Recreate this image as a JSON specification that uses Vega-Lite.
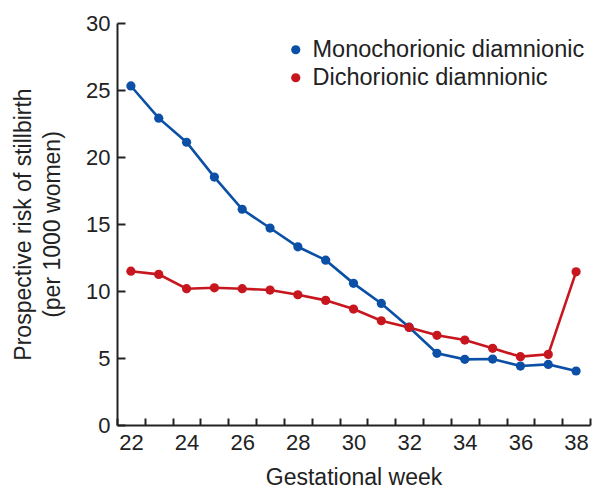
{
  "$schema": "https://vega.github.io/schema/vega-lite/v6.json",
  "autosize": {"type": "none"},
  "width": 473,
  "height": 402,
  "padding": {"left": 117, "top": 23, "right": 2, "bottom": 63},
  "background": "white",
  "config": {
    "view": {"stroke": null},
    "font": "Liberation Sans",
    "axis": {"domainColor": "#222", "tickColor": "#222", "labelColor": "#222", "titleColor": "#222", "domainWidth": 2, "tickWidth": 2, "grid": false, "labelFont": "Liberation Sans", "titleFont": "Liberation Sans", "titleFontWeight": "normal"}
  },
  "data": {"values": [
    {"week": 22, "risk": 25.3, "series": "Monochorionic diamnionic"},
    {"week": 23, "risk": 22.9, "series": "Monochorionic diamnionic"},
    {"week": 24, "risk": 21.1, "series": "Monochorionic diamnionic"},
    {"week": 25, "risk": 18.5, "series": "Monochorionic diamnionic"},
    {"week": 26, "risk": 16.1, "series": "Monochorionic diamnionic"},
    {"week": 27, "risk": 14.7, "series": "Monochorionic diamnionic"},
    {"week": 28, "risk": 13.3, "series": "Monochorionic diamnionic"},
    {"week": 29, "risk": 12.3, "series": "Monochorionic diamnionic"},
    {"week": 30, "risk": 10.57, "series": "Monochorionic diamnionic"},
    {"week": 31, "risk": 9.07, "series": "Monochorionic diamnionic"},
    {"week": 32, "risk": 7.3, "series": "Monochorionic diamnionic"},
    {"week": 33, "risk": 5.35, "series": "Monochorionic diamnionic"},
    {"week": 34, "risk": 4.9, "series": "Monochorionic diamnionic"},
    {"week": 35, "risk": 4.92, "series": "Monochorionic diamnionic"},
    {"week": 36, "risk": 4.4, "series": "Monochorionic diamnionic"},
    {"week": 37, "risk": 4.52, "series": "Monochorionic diamnionic"},
    {"week": 38, "risk": 4.03, "series": "Monochorionic diamnionic"},
    {"week": 22, "risk": 11.48, "series": "Dichorionic diamnionic"},
    {"week": 23, "risk": 11.24, "series": "Dichorionic diamnionic"},
    {"week": 24, "risk": 10.17, "series": "Dichorionic diamnionic"},
    {"week": 25, "risk": 10.24, "series": "Dichorionic diamnionic"},
    {"week": 26, "risk": 10.17, "series": "Dichorionic diamnionic"},
    {"week": 27, "risk": 10.07, "series": "Dichorionic diamnionic"},
    {"week": 28, "risk": 9.72, "series": "Dichorionic diamnionic"},
    {"week": 29, "risk": 9.3, "series": "Dichorionic diamnionic"},
    {"week": 30, "risk": 8.65, "series": "Dichorionic diamnionic"},
    {"week": 31, "risk": 7.78, "series": "Dichorionic diamnionic"},
    {"week": 32, "risk": 7.28, "series": "Dichorionic diamnionic"},
    {"week": 33, "risk": 6.69, "series": "Dichorionic diamnionic"},
    {"week": 34, "risk": 6.34, "series": "Dichorionic diamnionic"},
    {"week": 35, "risk": 5.72, "series": "Dichorionic diamnionic"},
    {"week": 36, "risk": 5.1, "series": "Dichorionic diamnionic"},
    {"week": 37, "risk": 5.27, "series": "Dichorionic diamnionic"},
    {"week": 38, "risk": 11.43, "series": "Dichorionic diamnionic"}
  ]},
  "encoding": {
    "x": {
      "field": "week", "type": "quantitative",
      "scale": {"domain": [21.5, 38.5], "nice": false, "zero": false},
      "axis": {
        "title": "Gestational week",
        "values": [21.5, 22, 22.5, 23, 23.5, 24, 24.5, 25, 25.5, 26, 26.5, 27, 27.5, 28, 28.5, 29, 29.5, 30, 30.5, 31, 31.5, 32, 32.5, 33, 33.5, 34, 34.5, 35, 35.5, 36, 36.5, 37, 37.5, 38, 38.5],
        "labelExpr": "datum.value % 2 == 0 ? format(datum.value, 'd') : ''",
        "tickOpacity": {"condition": {"test": "datum.value % 1 == 0", "value": 0}, "value": 1},
        "tickSize": -7,
        "labelPadding": 14,
        "labelFontSize": 22,
        "labelOverlap": false,
        "labelFlush": false,
        "titleFontSize": 23,
        "titleBaseline": "alphabetic",
        "titleY": 59
      }
    },
    "y": {
      "field": "risk", "type": "quantitative",
      "scale": {"domain": [0, 30], "nice": false},
      "axis": {
        "title": ["Prospective risk of stillbirth", "(per 1000 women)"],
        "values": [0, 5, 10, 15, 20, 25, 30],
        "tickSize": -8,
        "labelPadding": 15,
        "labelFontSize": 22,
        "labelFlush": false,
        "labelOverlap": false,
        "titleFontSize": 23,
        "titleAngle": -90,
        "titleAlign": "center",
        "titleBaseline": "alphabetic",
        "titleLineHeight": 29,
        "titleX": -86.5,
        "titleY": 201
      }
    }
  },
  "layer": [
    {
      "transform": [{"filter": "datum.series == 'Monochorionic diamnionic'"}],
      "mark": {"type": "line", "strokeWidth": 2.6, "color": "#0b50a6"}
    },
    {
      "transform": [{"filter": "datum.series == 'Dichorionic diamnionic'"}],
      "mark": {"type": "line", "strokeWidth": 2.6, "color": "#c7161e"}
    },
    {
      "mark": {"type": "point", "filled": true, "opacity": 1, "size": 85},
      "encoding": {
        "color": {
          "field": "series", "type": "nominal",
          "scale": {"domain": ["Monochorionic diamnionic", "Dichorionic diamnionic"], "range": ["#0b50a6", "#c7161e"]},
          "legend": {
            "title": null, "orient": "none", "legendX": 167, "legendY": 15,
            "padding": 0, "symbolType": "circle", "symbolSize": 85, "symbolStrokeWidth": 0,
            "labelFontSize": 23.5, "labelFont": "Liberation Sans", "labelColor": "#222", "labelLimit": 400,
            "labelOffset": 5, "rowPadding": 3, "symbolOpacity": 1
          }
        }
      }
    }
  ]
}
